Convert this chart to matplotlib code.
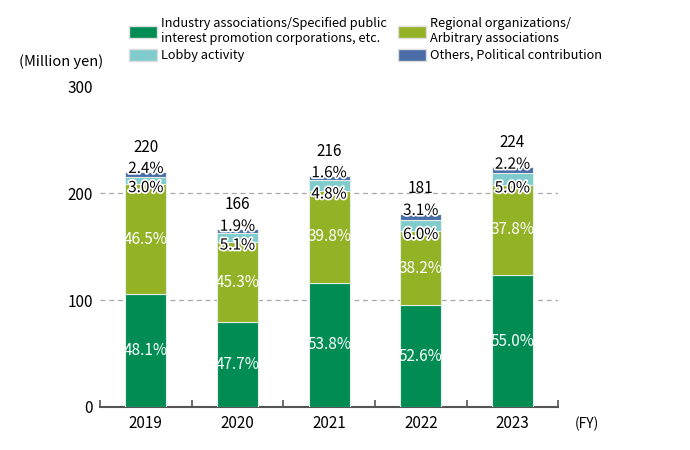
import numpy as np
import matplotlib.pyplot as plt
import matplotlib.patheffects as pe
from matplotlib.patches import Patch

years = ['2019', '2020', '2021', '2022', '2023']
totals = [220, 166, 216, 181, 224]
industry_pct = [48.1, 47.7, 53.8, 52.6, 55.0]
regional_pct = [46.5, 45.3, 39.8, 38.2, 37.8]
lobby_pct = [3.0, 5.1, 4.8, 6.0, 5.0]
others_pct = [2.4, 1.9, 1.6, 3.1, 2.2]

series_names = ['Industry associations/Specified public\ninterest promotion corporations, etc.',
                'Regional organizations/\nArbitrary associations',
                'Lobby activity',
                'Others, Political contribution']
colors = ['#008C53', '#94B226', '#80CCCC', '#4A6DA7']

plt.rcParams['font.family'] = ['Noto Sans CJK JP', 'DejaVu Sans']

fig = plt.figure(figsize=(6.9, 4.5), dpi=100)
ax = fig.add_axes([0.145, 0.0956, 0.664, 0.713])

x = np.arange(len(years))
tot = np.array(totals, dtype=float)
pcts = [np.array(p) for p in (industry_pct, regional_pct, lobby_pct, others_pct)]
bottom = np.zeros(len(years))
width = 0.45
outline = [pe.withStroke(linewidth=2.5, foreground='white')]

for i, p in enumerate(pcts):
    vals = tot * p / 100.0
    ax.bar(x, vals, width, bottom=bottom, color=colors[i],
           edgecolor='#e4eee8', linewidth=0.8, zorder=3)
    for j in range(len(years)):
        lbl = f'{p[j]:.1f}%'
        if i < 2:
            ax.text(x[j], bottom[j] + vals[j] / 2, lbl, ha='center', va='center',
                    color='white', fontsize=11, zorder=5)
        elif i == 2:
            # lobby label sits at the lower edge of its segment
            ax.text(x[j], bottom[j] - 3, lbl, ha='center', va='center',
                    color='black', fontsize=11, zorder=5, path_effects=outline)
        else:
            ax.text(x[j], bottom[j] + vals[j] + 3, lbl, ha='center', va='center',
                    color='black', fontsize=11, zorder=5, path_effects=outline)
    bottom += vals

for j in range(len(years)):
    ax.text(x[j], tot[j] + 15, str(totals[j]), ha='center', va='bottom',
            fontsize=11, color='black')

ax.set_xlim(-0.5, len(years) - 0.5)
ax.set_ylim(0, 300)
ax.set_yticks([0, 100, 200, 300])
ax.set_yticklabels(['0', '100', '200', '300'], fontsize=11)
ax.set_xticks(x)
ax.set_xticklabels(years, fontsize=11)
ax.set_xticks(np.arange(-0.5, len(years)), minor=True)
ax.tick_params(axis='x', which='major', length=0, pad=6)
ax.tick_params(axis='x', which='minor', length=5, color='#555555', width=1.2, direction='in')
ax.tick_params(axis='y', length=0, pad=5)
for y in (100, 200):
    ax.axhline(y, color='#aaaaaa', linestyle=(0, (4, 3)), linewidth=0.9, zorder=1)
for s in ('top', 'right', 'left'):
    ax.spines[s].set_visible(False)
ax.spines['bottom'].set_color('#555555')
ax.spines['bottom'].set_linewidth(1.5)

fig.text(0.028, 0.862, '(Million yen)', fontsize=10.5, va='center')
fig.text(0.833, 0.058, '(FY)', fontsize=10, va='center')

# two legend columns placed separately
handles = [Patch(facecolor=c, edgecolor='#dddddd') for c in colors]
leg_kw = dict(loc='upper left', frameon=False, fontsize=9.2, handlelength=2.2,
              handleheight=1.05, labelspacing=0.3, handletextpad=0.3,
              borderpad=0, borderaxespad=0)
leg1 = fig.legend([handles[0], handles[2]], [series_names[0], series_names[2]],
                  bbox_to_anchor=(129 / 690, 1 - 17 / 450), **leg_kw)
leg2 = fig.legend([handles[1], handles[3]], [series_names[1], series_names[3]],
                  bbox_to_anchor=(398 / 690, 1 - 17 / 450), **leg_kw)

fig.savefig('out.png', dpi=100)
